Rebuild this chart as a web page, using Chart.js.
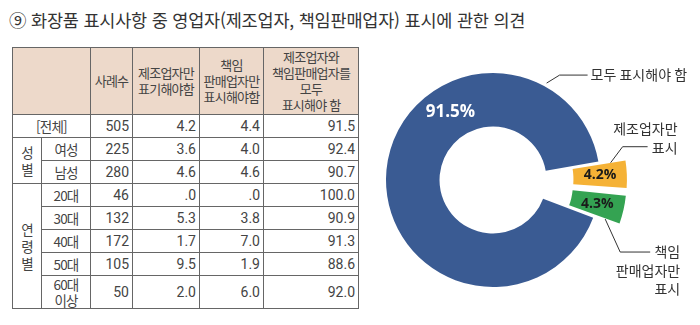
<!DOCTYPE html>
<html lang="ko">
<head>
<meta charset="utf-8">
<script src="https://cdn.jsdelivr.net/npm/chart.js@4.4.0/dist/chart.umd.min.js"></script>
<style>
    body {
        margin: 0;
        width: 700px;
        height: 325px;
        background: #fff;
        position: relative;
        overflow: hidden;
        font-family: "Noto Sans CJK KR", sans-serif;
        color: #444;
    }
    .title {
        position: absolute;
        left: 9px;
        top: 7px;
        font-size: 17.5px;
        color: #333;
        letter-spacing: -0.2px;
        white-space: nowrap;
    }
    table {
        position: absolute;
        left: 12px;
        top: 47px;
        width: 346px;
        border-collapse: collapse;
        table-layout: fixed;
        font-size: 13px;
    }
    th, td {
        border: 1px solid #666;
        padding: 0 3px;
        line-height: 16px;
        letter-spacing: -0.8px;
        white-space: nowrap;
        overflow: hidden;
    }
    th {
        background: #edd9ca;
        font-weight: normal;
        text-align: center;
        height: 66px;
    }
    td {
        height: 22px;
        text-align: center;
        font-size: 13.5px;
    }
    td.num {
        text-align: right;
        font-family: "Liberation Sans Narrow", "Roboto", sans-serif;
        font-size: 14px;
        letter-spacing: 0;
    }
    td.side {
        line-height: 17px;
    }
    tr.tall td {
        height: 29px;
    }
    #wrap {
        position: absolute;
        left: 360px;
        top: 40px;
        width: 340px;
        height: 285px;
    }
</style>
</head>
<body>
<div class="title">⑨ 화장품 표시사항 중 영업자(제조업자, 책임판매업자) 표시에 관한 의견</div>
<table id="tbl">
    <colgroup>
        <col style="width:29px"><col style="width:49px"><col style="width:42px">
        <col style="width:67px"><col style="width:64px"><col style="width:95px">
    </colgroup>
    <thead>
        <tr>
            <th colspan="2"></th>
            <th>사례수</th>
            <th>제조업자만<br>표기해야함</th>
            <th>책임<br>판매업자만<br>표시해야함</th>
            <th>제조업자와<br>책임판매업자를<br>모두<br>표시해야 함</th>
        </tr>
    </thead>
    <tbody id="tbody"></tbody>
</table>
<div id="wrap"><canvas id="pie" width="340" height="285"></canvas></div>

<script>
    // table data
    const rowGroups = ['', '성별', '성별', '연령별', '연령별', '연령별', '연령별', '연령별'];
    const rowLabels = ['[전체]', '여성', '남성', '20대', '30대', '40대', '50대', '60대<br>이상'];
    const caseCounts = [505, 225, 280, 46, 132, 172, 105, 50];
    const makerOnly = ['4.2', '3.6', '4.6', '.0', '5.3', '1.7', '9.5', '2.0'];
    const sellerOnly = ['4.4', '4.0', '4.6', '.0', '3.8', '7.0', '1.9', '6.0'];
    const bothShown = ['91.5', '92.4', '90.7', '100.0', '90.9', '91.3', '88.6', '92.0'];

    // doughnut data
    const pieLabels = ['모두 표시해야 함', '제조업자만 표시', '책임 판매업자만 표시'];
    const pieValues = [91.5, 4.2, 4.3];
    const pieColors = ['#3a5b93', '#f5b236', '#34a352'];
    const pieNotes = [['모두 표시해야 함'], ['제조업자만', '표시'], ['책임', '판매업자만', '표시']];

    const tbody = document.getElementById('tbody');
    rowLabels.forEach((label, i) => {
        const tr = document.createElement('tr');
        if (i === rowLabels.length - 1) tr.className = 'tall';
        let html = '';
        if (rowGroups[i] === '') {
            html += '<td colspan="2">' + label + '</td>';
        } else {
            if (rowGroups[i] !== rowGroups[i - 1]) {
                const span = rowGroups.filter(g => g === rowGroups[i]).length;
                html += '<td class="side" rowspan="' + span + '">' + rowGroups[i].split('').join('<br>') + '</td>';
            }
            html += '<td>' + label + '</td>';
        }
        html += '<td class="num">' + caseCounts[i] + '</td>';
        html += '<td class="num">' + makerOnly[i] + '</td>';
        html += '<td class="num">' + sellerOnly[i] + '</td>';
        html += '<td class="num">' + bothShown[i] + '</td>';
        tr.innerHTML = html;
        tbody.appendChild(tr);
    });

    // where value labels and leader lines go, as fractions of each arc
    const labelLayout = [
        { valAt: [0.66, 0.5], valColor: '#fff', valSize: 17, anchor: [0.845, 1.07], elbow: [13, -8], run: 28, align: 'left', textDx: 3, firstDy: 0 },
        { valAt: [0.5, 0.5], valColor: '#1a1a1a', valSize: 14, anchor: [0.05, 0.72], elbow: [12, -16], run: 25, align: 'right', textDx: 30, firstDy: -18 },
        { valAt: [0.5, 0.5], valColor: '#1a1a1a', valSize: 14, anchor: [0.97, 0.72], elbow: [15, 33], run: 30, align: 'right', textDx: 30, firstDy: 0 }
    ];

    function arcPoint(arc, angleFrac, radiusFrac) {
        const p = arc.getProps(['x', 'y', 'startAngle', 'endAngle', 'innerRadius', 'outerRadius']);
        const off = (arc.options.offset || 0) / 4;
        const circ = p.endAngle - p.startAngle;
        const fix = 1 - Math.sin(Math.min(Math.PI, circ));
        const ro = off * fix;
        const mid = (p.startAngle + p.endAngle) / 2;
        const cx = p.x + Math.cos(mid) * off;
        const cy = p.y + Math.sin(mid) * off;
        const a = p.startAngle + circ * angleFrac;
        const r = p.innerRadius + ro + (p.outerRadius - p.innerRadius) * radiusFrac;
        return { x: cx + Math.cos(a) * r, y: cy + Math.sin(a) * r };
    }

    const pieLabelPlugin = {
        id: 'pieLabels',
        afterDatasetsDraw(chart) {
            const ctx = chart.ctx;
            const arcs = chart.getDatasetMeta(0).data;
            ctx.save();
            arcs.forEach((arc, i) => {
                const lay = labelLayout[i];

                // percent inside the slice
                const v = arcPoint(arc, lay.valAt[0], lay.valAt[1]);
                ctx.font = 'bold ' + lay.valSize + 'px "Open Sans", sans-serif';
                ctx.fillStyle = lay.valColor;
                ctx.textAlign = 'center';
                ctx.textBaseline = 'middle';
                ctx.fillText(pieValues[i].toFixed(1) + '%', v.x, v.y);

                // leader line
                const a = arcPoint(arc, lay.anchor[0], lay.anchor[1]);
                const e = { x: a.x + lay.elbow[0], y: a.y + lay.elbow[1] };
                const end = { x: e.x + lay.run, y: e.y };
                ctx.strokeStyle = '#333';
                ctx.lineWidth = 1;
                ctx.beginPath();
                ctx.moveTo(a.x, a.y);
                ctx.lineTo(e.x, e.y);
                ctx.lineTo(end.x, end.y);
                ctx.stroke();

                // category text
                ctx.font = '14px "Noto Sans CJK KR", sans-serif';
                ctx.fillStyle = '#333';
                ctx.textAlign = lay.align;
                pieNotes[i].forEach((line, k) => {
                    ctx.fillText(line, end.x + lay.textDx, end.y + lay.firstDy + k * 18.5);
                });
            });
            ctx.restore();
        }
    };

    const pieCtx = document.getElementById('pie').getContext('2d');
    const pieChart = new Chart(pieCtx, {
        type: 'doughnut',
        data: {
            labels: pieLabels,
            datasets: [{
                data: pieValues,
                backgroundColor: pieColors,
                borderWidth: 0,
                offset: [0, 62, 62]
            }]
        },
        options: {
            responsive: false,
            animation: false,
            rotation: 110.6,
            cutout: '50%',
            radius: 107,
            layout: {
                padding: { left: 0, right: 74, top: 0, bottom: 5 }
            },
            plugins: {
                legend: { display: false },
                tooltip: { enabled: false }
            }
        },
        plugins: [pieLabelPlugin]
    });
</script>
</body>
</html>
